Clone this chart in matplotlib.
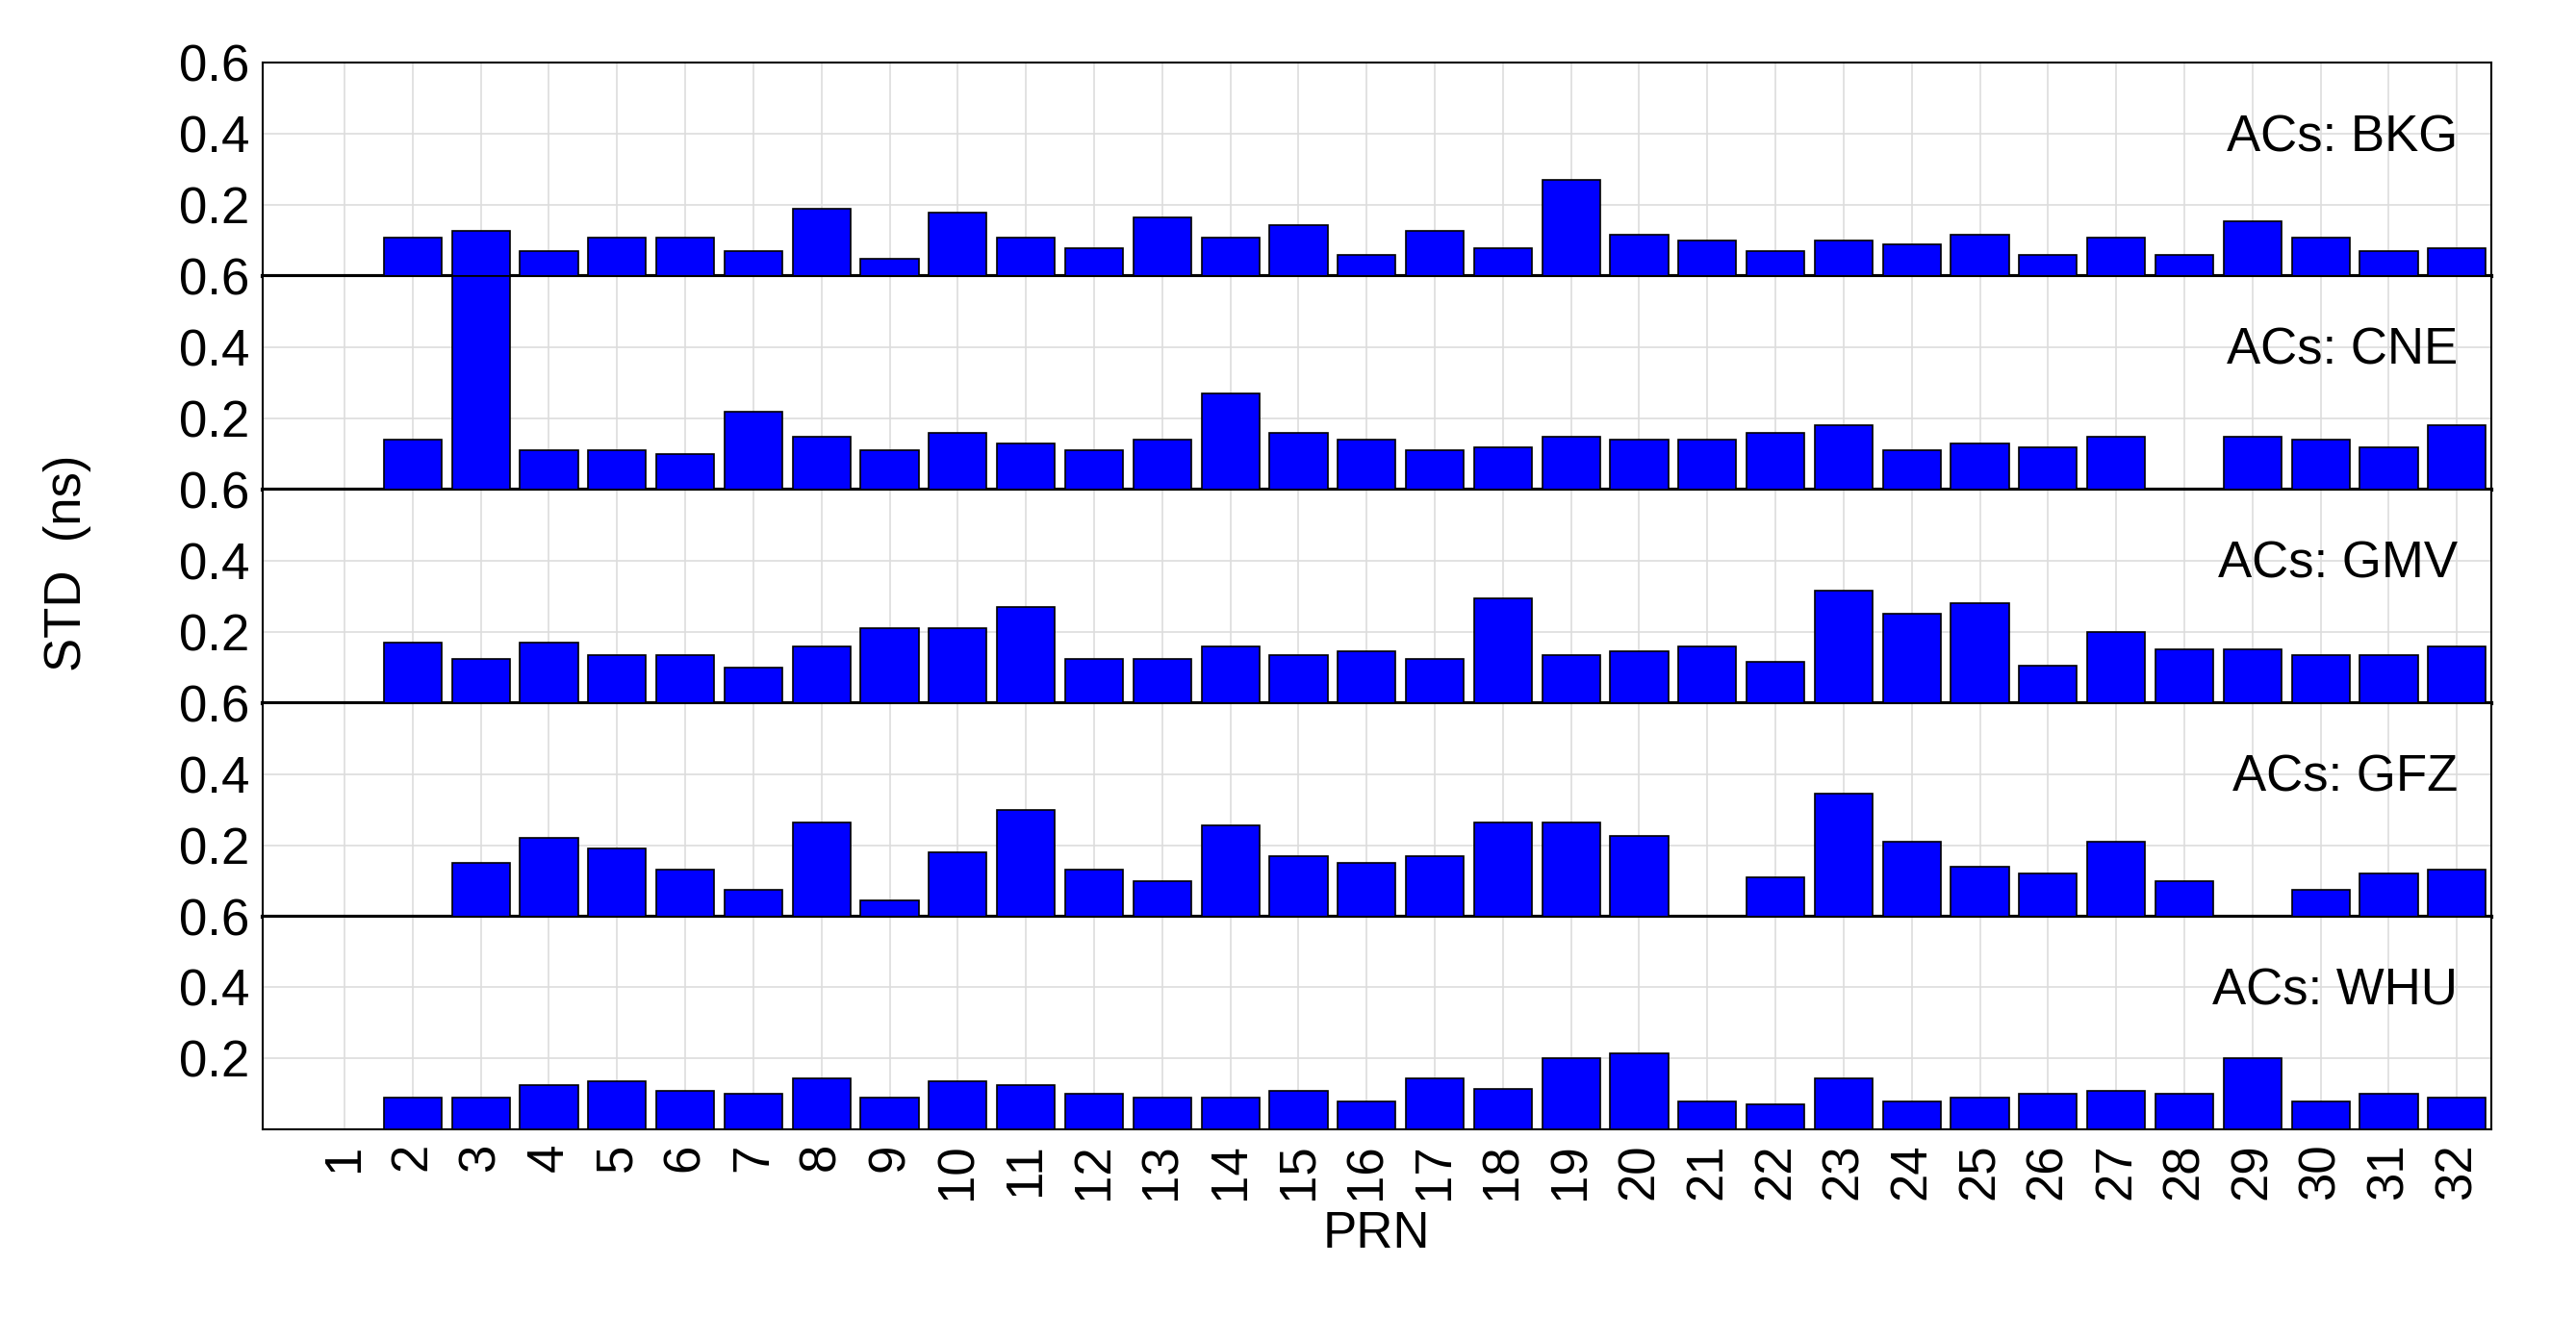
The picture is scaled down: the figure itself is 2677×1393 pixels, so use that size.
import matplotlib
matplotlib.use("Agg")
import matplotlib.pyplot as plt
import numpy as np

prn = list(range(1, 33))
nan = np.nan
bkg = [nan, 0.108, 0.127, 0.07, 0.108, 0.108, 0.07, 0.19, 0.05, 0.18, 0.108, 0.08, 0.165, 0.108, 0.145, 0.06,
       0.127, 0.08, 0.27, 0.118, 0.10, 0.07, 0.10, 0.09, 0.118, 0.06, 0.108, 0.06, 0.155, 0.108, 0.07, 0.08]
cne = [nan, 0.14, 0.60, 0.11, 0.11, 0.10, 0.22, 0.15, 0.11, 0.16, 0.13, 0.11, 0.14, 0.27, 0.16, 0.14,
       0.11, 0.12, 0.15, 0.14, 0.14, 0.16, 0.18, 0.11, 0.13, 0.12, 0.15, nan, 0.15, 0.14, 0.12, 0.18]
gmv = [nan, 0.17, 0.125, 0.17, 0.135, 0.135, 0.10, 0.16, 0.21, 0.21, 0.27, 0.125, 0.125, 0.16, 0.135, 0.145,
       0.125, 0.295, 0.135, 0.145, 0.16, 0.115, 0.315, 0.25, 0.28, 0.105, 0.20, 0.15, 0.15, 0.135, 0.135, 0.16]
gfz = [nan, nan, 0.15, 0.22, 0.19, 0.13, 0.075, 0.265, 0.045, 0.18, 0.30, 0.13, 0.10, 0.255, 0.17, 0.15,
       0.17, 0.265, 0.265, 0.225, nan, 0.11, 0.345, 0.21, 0.14, 0.12, 0.21, 0.10, nan, 0.075, 0.12, 0.13]
whu = [nan, 0.09, 0.09, 0.125, 0.135, 0.11, 0.10, 0.145, 0.09, 0.135, 0.125, 0.10, 0.09, 0.09, 0.11, 0.08,
       0.145, 0.115, 0.20, 0.215, 0.08, 0.07, 0.145, 0.08, 0.09, 0.10, 0.11, 0.10, 0.20, 0.08, 0.10, 0.09]
centers = ["BKG", "CNE", "GMV", "GFZ", "WHU"]
series = [bkg, cne, gmv, gfz, whu]

plt.rcParams["font.family"] = ["Liberation Sans", "DejaVu Sans"]
fig, axes = plt.subplots(5, 1, figsize=(26.77, 13.93), dpi=100, sharex=True)
fig.subplots_adjust(left=0.102, right=0.967, top=0.953, bottom=0.157, hspace=0)

for ax, name, vals in zip(axes, centers, series):
    ax.bar(prn, vals, width=0.85, color="#0000ff", edgecolor="black", linewidth=1.2, zorder=3)
    ax.set_ylim(0, 0.6)
    ax.set_xlim(-0.2, 32.5)
    ax.set_yticks([0.2, 0.4, 0.6])
    ax.set_yticklabels(["0.2", "0.4", "0.6"])
    ax.set_xticks(prn)
    ax.grid(True, color="#dddddd", linewidth=1.2, zorder=0)
    ax.tick_params(labelsize=38, direction="in", length=0, pad=10)
    for s in ax.spines.values():
        s.set_linewidth(1.5)
    ax.spines["bottom"].set_linewidth(3)
    ax.text(0.985, 0.65, f"ACs: {name}", transform=ax.transAxes, ha="right", va="center", fontsize=38)

axes[-1].spines["bottom"].set_linewidth(1.5)
axes[-1].set_xticklabels([str(p) for p in prn], rotation=90, va="top")
axes[-1].set_xlabel("PRN", fontsize=38, labelpad=8)
fig.text(0.026, 0.58, "STD  (ns)", rotation=90, ha="center", va="center", fontsize=38)
fig.savefig("out.png")
